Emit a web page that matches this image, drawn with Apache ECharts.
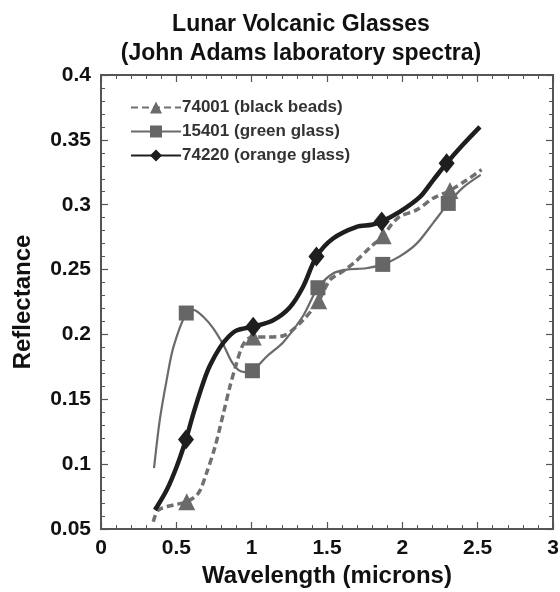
<!DOCTYPE html>
<html>
<head>
<meta charset="utf-8">
<script src="https://cdn.jsdelivr.net/npm/echarts@6/dist/echarts.min.js"></script>
<style>
html,body{margin:0;padding:0;background:#fff;}
#chart{width:560px;height:592px;}
</style>
</head>
<body>
<div id="chart"></div>
<script>
// ---- data ----
const xTickLabels = ['0', '0.5', '1', '1.5', '2', '2.5', '3'];
const yTickLabels = ['0.05', '0.1', '0.15', '0.2', '0.25', '0.3', '0.35', '0.4'];

const blackBeadsName = '74001 (black beads)';
const blackBeadsX = [0.347, 0.38, 0.48, 0.569, 0.646, 0.70, 0.757, 0.812, 0.856, 0.9, 0.934, 0.967, 1.01, 1.10, 1.21, 1.34, 1.445, 1.52, 1.61, 1.697, 1.785, 1.873, 1.93, 1.984, 2.095, 2.205, 2.316, 2.427, 2.526];
const blackBeadsY = [0.0556, 0.0646, 0.0685, 0.071, 0.0775, 0.093, 0.1134, 0.139, 0.16, 0.178, 0.19, 0.196, 0.198, 0.198, 0.199, 0.211, 0.226, 0.242, 0.249, 0.257, 0.267, 0.276, 0.285, 0.291, 0.296, 0.305, 0.311, 0.319, 0.327];
const blackBeadsMarkers = [3, 12, 16, 21, 26];

const greenName = '15401 (green glass)';
const greenX = [0.352, 0.39, 0.436, 0.48, 0.566, 0.613, 0.679, 0.745, 0.812, 0.867, 0.911, 0.955, 1.005, 1.1, 1.21, 1.34, 1.44, 1.54, 1.63, 1.76, 1.87, 1.98, 2.095, 2.205, 2.305, 2.40, 2.52];
const greenY = [0.097, 0.134, 0.165, 0.19, 0.2165, 0.219, 0.2136, 0.2047, 0.192, 0.179, 0.1726, 0.171, 0.172, 0.183, 0.194, 0.214, 0.236, 0.247, 0.250, 0.251, 0.254, 0.26, 0.27, 0.286, 0.301, 0.313, 0.323];
const greenMarkers = [4, 12, 16, 20, 24];

const orangeName = '74220 (orange glass)';
const orangeX = [0.358, 0.436, 0.502, 0.564, 0.613, 0.679, 0.723, 0.79, 0.845, 0.9, 1.01, 1.143, 1.254, 1.342, 1.43, 1.54, 1.697, 1.796, 1.863, 1.984, 2.117, 2.205, 2.294, 2.4, 2.515];
const orangeY = [0.0646, 0.08, 0.098, 0.119, 0.139, 0.163, 0.176, 0.19, 0.198, 0.203, 0.206, 0.211, 0.221, 0.237, 0.26, 0.274, 0.283, 0.2845, 0.287, 0.2946, 0.306, 0.319, 0.332, 0.346, 0.36];
const orangeMarkers = [3, 10, 14, 18, 22];

// ---- build ----
function buildData(xs, ys, markers) {
  return xs.map((x, i) => ({
    value: [x, ys[i]],
    symbol: markers.includes(i) ? undefined : 'none'
  }));
}

const FONT = "'Liberation Sans', Arial, sans-serif";
const chart = echarts.init(document.getElementById('chart'));

function tickCommon() {
  return {
    axisLine: { show: false, onZero: false },
    axisTick: { show: true, inside: true, length: 7, lineStyle: { color: '#555', width: 1.2 } },
    minorTick: { show: true, splitNumber: 5, length: 4, lineStyle: { color: '#555', width: 1 } },
    splitLine: { show: false },
    minorSplitLine: { show: false }
  };
}

chart.setOption({
  animation: false,
  backgroundColor: '#fff',
  title: {
    text: 'Lunar Volcanic Glasses\n(John Adams laboratory spectra)',
    left: 296,
    textAlign: 'center',
    top: 5,
    textStyle: { fontFamily: FONT, fontWeight: 'bold', fontSize: 23, lineHeight: 29, color: '#111' }
  },
  legend: {
    orient: 'vertical',
    left: 125,
    top: 94,
    itemWidth: 50,
    itemHeight: 15,
    itemGap: 7,
    textStyle: { fontFamily: FONT, fontWeight: 'bold', fontSize: 17, color: '#333', padding: [0, 0, 0, -4] },
    data: [blackBeadsName, greenName, orangeName]
  },
  grid: {
    left: 101, right: 7, top: 75, bottom: 63,
    outerBoundsMode: 'none',
    containLabel: false,
    show: true, borderColor: '#555', borderWidth: 2, backgroundColor: 'transparent'
  },
  xAxis: [
    Object.assign(tickCommon(), {
      type: 'value', min: 0, max: 3, interval: 0.5,
      name: 'Wavelength (microns)', nameLocation: 'middle', nameGap: 31,
      nameTextStyle: { fontFamily: FONT, fontWeight: 'bold', fontSize: 24, color: '#111' },
      axisLabel: {
        margin: 9, fontFamily: FONT, fontWeight: 'bold', fontSize: 21, color: '#111',
        formatter: v => xTickLabels[Math.round(v / 0.5)] ?? ''
      }
    }),
    Object.assign(tickCommon(), {
      type: 'value', min: 0, max: 3, interval: 0.5, position: 'top',
      axisLabel: { show: false }
    })
  ],
  yAxis: [
    Object.assign(tickCommon(), {
      type: 'value', min: 0.05, max: 0.4, interval: 0.05,
      name: 'Reflectance', nameLocation: 'middle', nameGap: 66, nameRotate: 90,
      nameTextStyle: { fontFamily: FONT, fontWeight: 'bold', fontSize: 24, color: '#111' },
      axisLabel: {
        margin: 10, fontFamily: FONT, fontWeight: 'bold', fontSize: 21, color: '#111',
        formatter: v => yTickLabels[Math.round((v - 0.05) / 0.05)] ?? ''
      }
    }),
    Object.assign(tickCommon(), {
      type: 'value', min: 0.05, max: 0.4, interval: 0.05, position: 'right',
      axisLabel: { show: false }
    })
  ],
  series: [
    {
      name: blackBeadsName, type: 'line', smooth: 0.3,
      symbol: 'triangle', symbolSize: 17, showSymbol: true,
      lineStyle: { color: '#707070', width: 3.5, type: [7, 4] },
      itemStyle: { color: '#6a6a6a' },
      data: buildData(blackBeadsX, blackBeadsY, blackBeadsMarkers),
      z: 2
    },
    {
      name: greenName, type: 'line', smooth: 0.3,
      symbol: 'rect', symbolSize: 15, showSymbol: true,
      lineStyle: { color: '#6a6a6a', width: 2.2 },
      itemStyle: { color: '#666' },
      data: buildData(greenX, greenY, greenMarkers),
      z: 3
    },
    {
      name: orangeName, type: 'line', smooth: 0.3,
      symbol: 'diamond', symbolSize: [16, 20], showSymbol: true,
      lineStyle: { color: '#1e1e1e', width: 4.5 },
      itemStyle: { color: '#1e1e1e' },
      data: buildData(orangeX, orangeY, orangeMarkers),
      z: 4
    }
  ]
});
</script>
</body>
</html>
